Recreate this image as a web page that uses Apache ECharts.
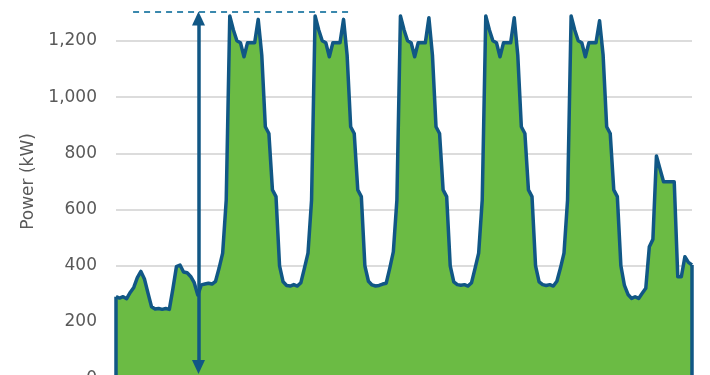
<!DOCTYPE html>
<html>
<head>
<meta charset="utf-8">
<script src="https://cdn.jsdelivr.net/npm/echarts@6/dist/echarts.min.js"></script>
<style>
html,body{margin:0;padding:0;background:#fff;}
#chart{width:710px;height:375px;}
</style>
</head>
<body>
<div id="chart"></div>
<script>
// Hourly power demand (kW), one array per day, Sunday 00:00 through Saturday 18:00
const sunday    = [290,285,290,283,305,323,358,380,353,303,254,246,248,245,248,245,318,397,403,378,375,362,340,296,332,335,338,335];
const monday    = [345,392,445,634,1289,1240,1201,1194,1144,1194,1194,1194,1277,1150,895,871,670,646,400,343,330,328,333,328];
const tuesday   = [340,392,445,634,1289,1240,1201,1194,1144,1194,1194,1194,1277,1150,895,871,670,646,400,345,332,328,330,335];
const wednesday = [338,392,450,634,1289,1240,1201,1194,1144,1194,1194,1194,1283,1150,895,871,670,646,400,343,333,331,333,328];
const thursday  = [340,392,445,634,1289,1240,1201,1194,1144,1194,1194,1194,1283,1150,895,871,670,646,400,343,333,330,333,328];
const friday    = [345,392,445,634,1289,1240,1201,1194,1144,1194,1194,1194,1272,1150,895,871,670,646,400,330,298,284,290,284];
const saturday  = [302,320,468,494,791,745,699,699,699,699,361,361,432,412,403];

const dayNames = ['Sun','Mon','Tue','Wed','Thu','Fri','Sat'];
const yTicks = [0,200,400,600,800,1000,1200];

// peak annotation (kW) and positions of annotation in hour units
const peakLine = 1303;
const arrowHour = 23.2;
const dashStartHour = 4.8;
const dashEndHour = 66.4;

const power = [].concat(sunday, monday, tuesday, wednesday, thursday, friday, saturday);
const hours = power.map((_, i) => dayNames[Math.floor(i / 24)] + ' ' + String(i % 24).padStart(2, '0') + ':00');
const seriesData = power.map((v, i) => [i, v]);
const last = power.length - 1;

const dark = '#115785';
const chart = echarts.init(document.getElementById('chart'), null, {renderer: 'canvas'});
chart.setOption({
  animation: false,
  backgroundColor: '#ffffff',
  grid: {left: 116, right: 18, top: -15.2, bottom: -3.2, containLabel: false, outerBoundsMode: 'none'},
  xAxis: {
    type: 'value', min: 0, max: last, show: false,
    splitLine: {show: false}
  },
  yAxis: {
    type: 'value', min: yTicks[0], max: 1400, interval: yTicks[1] - yTicks[0],
    name: 'Power (kW)', nameLocation: 'middle', nameGap: 76, nameRotate: 90,
    nameTextStyle: {color: '#595959', fontSize: 17, fontFamily: 'DejaVu Sans'},
    axisLine: {show: false}, axisTick: {show: false},
    axisLabel: {
      color: '#595959', fontSize: 17, fontFamily: 'DejaVu Sans', margin: 19,
      formatter: v => v.toLocaleString('en-US')
    },
    splitLine: {lineStyle: {color: '#dcdcdc', width: 2}}
  },
  series: [{
    type: 'line',
    data: seriesData,
    showSymbol: false,
    symbol: 'none',
    lineStyle: {color: dark, width: 3.5, join: 'round'},
    areaStyle: {color: '#6BBB44', opacity: 1},
    silent: true,
    markLine: {
      silent: true,
      animation: false,
      label: {show: false},
      symbol: 'none',
      data: [
        [{coord: [0, 0], lineStyle: {color: dark, width: 3.5, type: 'solid'}}, {coord: [0, power[0]]}],
        [{coord: [last, 0], lineStyle: {color: dark, width: 3.5, type: 'solid'}}, {coord: [last, power[last]]}],
        [{coord: [dashStartHour, peakLine], lineStyle: {color: '#3a88ad', width: 2, type: [6, 5]}}, {coord: [dashEndHour, peakLine]}],
        [{coord: [arrowHour, 40], symbol: 'triangle', symbolSize: [13, 14], lineStyle: {color: dark, width: 3.5, type: 'solid'}},
         {coord: [arrowHour, 1280], symbol: 'triangle', symbolSize: [13, 14]}]
      ]
    }
  }]
});
</script>
</body>
</html>
